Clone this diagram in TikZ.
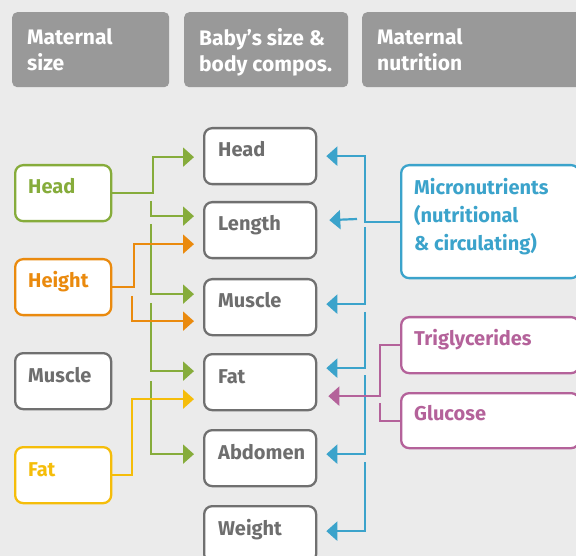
\documentclass[tikz,border=0pt]{standalone}
\usepackage{fontspec}
\setmainfont{Fira Sans}
\usetikzlibrary{arrows.meta,calc}
\definecolor{cbg}{HTML}{EBEBEB}
\definecolor{chead}{HTML}{999999}
\definecolor{cgray}{HTML}{707070}
\definecolor{ctext}{HTML}{6E6E6E}
\definecolor{cgreen}{HTML}{86AC3B}
\definecolor{corange}{HTML}{EA8A0E}
\definecolor{cyellow}{HTML}{F5BD0A}
\definecolor{cblue}{HTML}{3BA3CB}
\definecolor{cmag}{HTML}{B4629A}
\begin{document}
\begin{tikzpicture}[x=1pt,y=-1pt,
  box/.style={draw, line width=2.3pt, rounded corners=8pt, fill=white, inner sep=0pt, anchor=north west},
  hbox/.style={fill=chead, rounded corners=5pt, inner sep=0pt, anchor=north west},
  lbl/.style={inner sep=0pt, font=\bfseries\fontsize{20}{28}\selectfont, anchor=base west},
  mlbl/.style={inner sep=0pt, align=left, anchor=north west, font=\bfseries\fontsize{20}{28}\selectfont},
  hlbl/.style={inner sep=0pt, align=left, anchor=north west, text=white, font=\bfseries\fontsize{21}{26}\selectfont},
  conn/.style={line width=2.2pt, -{Triangle[length=11pt,width=19pt]}},
  seg/.style={line width=2.2pt},
]
\useasboundingbox (0,0) rectangle (576,556);
\fill[cbg] (0,0) rectangle (576,556);
\clip (0,0) rectangle (576,556);

% headers
\node[hbox, minimum width=157pt, minimum height=75pt] (h1) at (12,12) {};
\node[hbox, minimum width=164pt, minimum height=75pt] (h2) at (184,12) {};
\node[hbox, minimum width=228pt, minimum height=75pt] (h3) at (362,12) {};
\node[hlbl] (th1) at ($(h1.north west)+(15,16)$) {\rule{0pt}{15pt}Maternal\\size};
\node[hlbl] (th2) at ($(h2.north west)+(15,16)$) {\rule{0pt}{15pt}Baby’s size \&\\body compos.};
\node[hlbl] (th3) at ($(h3.north west)+(15,16)$) {\rule{0pt}{15pt}Maternal\\nutrition};

% maternal size column
\node[box, draw=cgreen, minimum width=96pt, minimum height=56pt] (mHead) at (14,164) {};
\node[box, draw=corange, minimum width=96pt, minimum height=56pt] (mHeight) at (14,258) {};
\node[box, draw=cgray, minimum width=96pt, minimum height=56pt] (mMuscle) at (14,352) {};
\node[box, draw=cyellow, minimum width=96pt, minimum height=56pt] (mFat) at (14,446) {};
\node[lbl, text=cgreen] (tmHead) at ($(mHead.north west)+(14,30)$) {Head};
\node[lbl, text=corange] (tmHeight) at ($(mHeight.north west)+(14,30)$) {Height};
\node[lbl, text=ctext] (tmMuscle) at ($(mMuscle.north west)+(14,30)$) {Muscle};
\node[lbl, text=cyellow] (tmFat) at ($(mFat.north west)+(14,30)$) {Fat};

% baby column
\node[box, draw=cgray, minimum width=112pt, minimum height=56pt] (bHead) at (203,127) {};
\node[box, draw=cgray, minimum width=112pt, minimum height=56pt] (bLength) at (203,201) {};
\node[box, draw=cgray, minimum width=112pt, minimum height=56pt] (bMuscle) at (203,278) {};
\node[box, draw=cgray, minimum width=112pt, minimum height=56pt] (bFat) at (203,353) {};
\node[box, draw=cgray, minimum width=112pt, minimum height=56pt] (bAbd) at (203,429) {};
\node[box, draw=cgray, minimum width=112pt, minimum height=56pt] (bWeight) at (203,505) {};
\node[lbl, text=ctext] (tbHead) at ($(bHead.north west)+(15,30)$) {Head};
\node[lbl, text=ctext] (tbLength) at ($(bLength.north west)+(15,30)$) {Length};
\node[lbl, text=ctext] (tbMuscle) at ($(bMuscle.north west)+(15,30)$) {Muscle};
\node[lbl, text=ctext] (tbFat) at ($(bFat.north west)+(15,30)$) {Fat};
\node[lbl, text=ctext] (tbAbd) at ($(bAbd.north west)+(15,30)$) {Abdomen};
\node[lbl, text=ctext] (tbWeight) at ($(bWeight.north west)+(15,30)$) {Weight};

% maternal nutrition column
\node[box, draw=cblue, minimum width=178pt, minimum height=113pt] (rMicro) at (400,164) {};
\node[box, draw=cmag, minimum width=178pt, minimum height=56pt] (rTri) at (400,316) {};
\node[box, draw=cmag, minimum width=178pt, minimum height=55pt] (rGlu) at (400,392) {};
\node[mlbl, text=cblue] (trMicro) at ($(rMicro.north west)+(14,14)$) {\rule{0pt}{15pt}Micronutrients\\(nutritional\\\&~circulating)};
\node[lbl, text=cmag] (trTri) at ($(rTri.north west)+(14,29)$) {Triglycerides};
\node[lbl, text=cmag] (trGlu) at ($(rGlu.north west)+(14,28)$) {Glucose};

% free ends of split connectors
\coordinate (g2) at (151,201);
\coordinate (g3) at (151,224);
\coordinate (g4) at (151,303);
\coordinate (g5) at (151,381);
\coordinate (o2) at (132,296);
\coordinate (b2) at (357,219);
\coordinate (b3) at (365,227);
\coordinate (b4) at (365,312);
\coordinate (b5) at (365,375);
\coordinate (b6) at (365,462);
\coordinate (p2) at (380,403);

% green connectors
\draw[conn, cgreen] (mHead.east) -- ++(41,0) |- ($(bHead.west)+(-9,1)$);
\draw[conn, cgreen] (g2) |- ($(bLength.west)+(-9,-14)$);
\draw[conn, cgreen] (g3) |- ($(bMuscle.west)+(-9,-13)$);
\draw[conn, cgreen] (g4) |- ($(bFat.west)+(-9,-11)$);
\draw[conn, cgreen] (g5) |- ($(bAbd.west)+(-9,-4)$);
% orange
\draw[conn, corange] (mHeight.east) -- ++(22,0) |- ($(bLength.west)+(-9,14)$);
\draw[conn, corange] (o2) |- ($(bMuscle.west)+(-9,14)$);
% yellow
\draw[conn, cyellow] (mFat.east) -- ++(20,0) |- ($(bFat.west)+(-9,17)$);

% blue connectors
\draw[conn, cblue] (rMicro.west) -- ++(-35,0) |- ($(bHead.east)+(9,0)$);
\draw[conn, cblue] (b2) -- ($(bLength.east)+(12,-10)$);
\draw[conn, cblue] (b3) |- ($(bMuscle.east)+(9,-3)$);
\draw[conn, cblue] (b4) |- ($(bFat.east)+(9,-14)$);
\draw[conn, cblue] (b5) |- ($(bAbd.east)+(9,-4)$);
\draw[conn, cblue] (b6) |- ($(bWeight.east)+(9,-3)$);
% magenta
\draw[conn, cmag] (rTri.west) -- ++(-20,0) |- ($(bFat.east)+(11,14)$);
\draw[seg, cmag] (rGlu.west) -- ++(-20,0) -- (p2);
\end{tikzpicture}
\end{document}
